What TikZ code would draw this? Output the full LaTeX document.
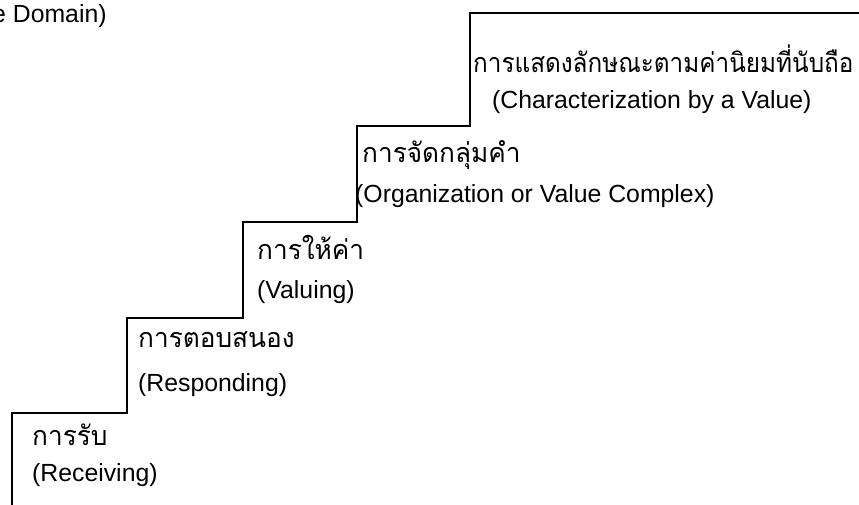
\documentclass[tikz,border=0pt]{standalone}
\usepackage{fontspec}
\setmainfont{Liberation Sans}
\newfontfamily\thaifont[Script=Thai,FakeStretch=0.97]{Loma}
\newfontfamily\thaitopfont[Script=Thai,FakeStretch=0.90]{Loma}
\begin{document}
\begin{tikzpicture}[x=1pt,y=-1pt,
  stair/.style={line width=1.6pt,line cap=rect,line join=miter},
  eng/.style={anchor=west,inner sep=0pt,font=\fontsize{24.8}{28}\selectfont},
  thai/.style={anchor=west,inner sep=0pt,font=\thaifont\fontsize{27}{30}\selectfont},
  thaitop/.style={anchor=west,inner sep=0pt,font=\thaitopfont\fontsize{27}{30}\selectfont}]
\useasboundingbox[fill=white] (0,0) rectangle (859,504);
% staircase
\coordinate (s0) at (12,504);
\coordinate (s1) at (12,413);
\coordinate (s2) at (127,413);
\coordinate (s3) at (127,318);
\coordinate (s4) at (243,318);
\coordinate (s5) at (243,222);
\coordinate (s6) at (357,222);
\coordinate (s7) at (357,126);
\coordinate (s8) at (470,126);
\coordinate (s9) at (470,13);
\coordinate (s10) at (859,13);
\draw[stair] (s0) -- (s1) -- (s2) -- (s3) -- (s4) -- (s5) -- (s6) -- (s7) -- (s8) -- (s9) -- (s10);
% labels
\node[eng] (dom) at (-8,16) {e Domain)};
\node[thaitop] (t5) at (473,59) {การแสดงลักษณะตามค่านิยมที่นับถือ};
\node[eng] (e5) at (492,102) {(Characterization by a Value)};
\node[thai] (t4) at (362,155) {การจัดกลุ่มคำ};
\node[eng] (e4) at (355,196) {(Organization or Value Complex)};
\node[thai] (t3) at (257,247) {การให้ค่า};
\node[eng] (e3) at (257,292) {(Valuing)};
\node[thai] (t2) at (138,340) {การตอบสนอง};
\node[eng] (e2) at (138,385) {(Responding)};
\node[thai] (t1) at (32,435) {การรับ};
\node[eng] (e1) at (32,475) {(Receiving)};
\end{tikzpicture}
\end{document}
